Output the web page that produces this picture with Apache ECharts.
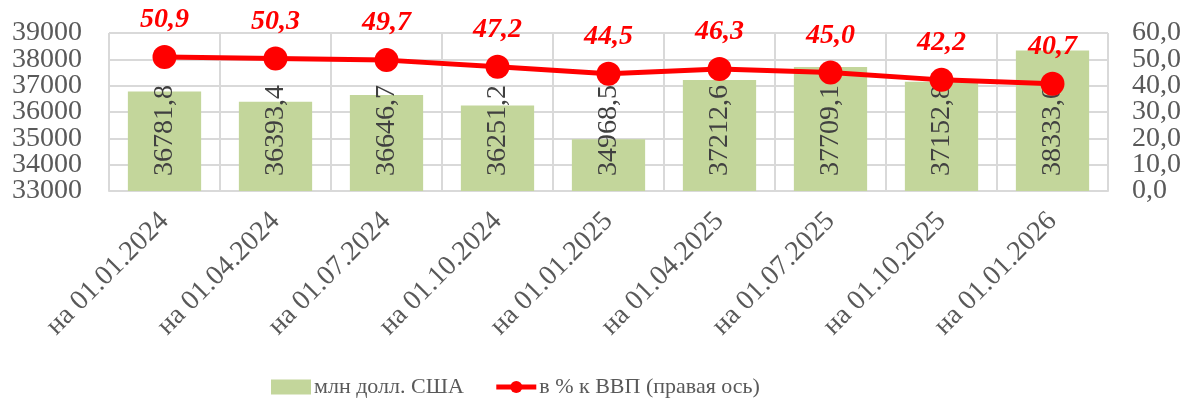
<!DOCTYPE html>
<html><head><meta charset="utf-8">
<script src="https://cdn.jsdelivr.net/npm/echarts@6/dist/echarts.min.js"></script>
<style>html,body{margin:0;padding:0;background:#fff}#c{width:1186px;height:407px}</style>
</head><body><div id="c"></div>
<script>
const categories = ['на 01.01.2024','на 01.04.2024','на 01.07.2024','на 01.10.2024','на 01.01.2025','на 01.04.2025','на 01.07.2025','на 01.10.2025','на 01.01.2026'];
const usdMln = [36781.8, 36393.4, 36646.7, 36251.2, 34968.5, 37212.6, 37709.1, 37152.8, 38333.0];
const pctGdp = [50.9, 50.3, 49.7, 47.2, 44.5, 46.3, 45.0, 42.2, 40.7];
const seriesNames = ['млн долл. США', 'в % к ВВП (правая ось)'];
const leftRange = [33000, 39000, 1000];
const rightRange = [0, 60, 10];

const font = "'Liberation Serif', serif";
const comma1 = v => v.toFixed(1).replace('.', ',');
const labelBase = {fontFamily: font, fontSize: 28, color: '#595959', hideOverlap: false};
const chart = echarts.init(document.getElementById('c'));
chart.setOption({
  animation: false,
  textStyle: {fontFamily: font},
  grid: {left: 109, right: 78, top: 33, bottom: 216},
  legend: {
    bottom: 4, left: 266, itemGap: 30,
    textStyle: {fontFamily: font, fontSize: 22, color: '#595959', padding: [0, 0, 0, -2]},
    data: [
      {name: seriesNames[0], icon: 'rect', itemStyle: {color: '#C3D69B'}},
      {name: seriesNames[1], lineStyle: {width: 5, color: '#FF0000'}, itemStyle: {color: '#FF0000'}}
    ],
    itemWidth: 40, itemHeight: 15
  },
  xAxis: {
    type: 'category', data: categories, boundaryGap: true,
    axisLine: {lineStyle: {color: '#D9D9D9', width: 2}},
    axisTick: {show: false},
    splitLine: {show: true, lineStyle: {color: '#D9D9D9', width: 2}},
    axisLabel: {rotate: 45, fontFamily: font, fontSize: 28, color: '#595959', margin: 26, interval: 0}
  },
  yAxis: [
    {type: 'value', position: 'left', min: leftRange[0], max: leftRange[1], interval: leftRange[2],
     axisLine: {show: false}, axisTick: {show: false},
     splitLine: {lineStyle: {color: '#D9D9D9', width: 2}},
     axisLabel: Object.assign({}, labelBase, {margin: 27, showMinLabel: false, showMaxLabel: false,
                 formatter: v => String(v)})},
    {type: 'value', position: 'right', min: rightRange[0], max: rightRange[1], interval: rightRange[2],
     axisLine: {show: false}, axisTick: {show: false}, splitLine: {show: false},
     axisLabel: Object.assign({}, labelBase, {margin: 24, showMinLabel: false, showMaxLabel: false,
                 formatter: v => comma1(v)})},
    {type: 'value', position: 'left', min: leftRange[0], max: leftRange[1], interval: leftRange[1] - leftRange[0],
     axisLine: {show: false}, axisTick: {show: false}, splitLine: {show: false},
     axisLabel: Object.assign({}, labelBase, {margin: 27, showMinLabel: true, showMaxLabel: true,
                 formatter: v => String(v)})},
    {type: 'value', position: 'right', min: rightRange[0], max: rightRange[1], interval: rightRange[1] - rightRange[0],
     axisLine: {show: false}, axisTick: {show: false}, splitLine: {show: false},
     axisLabel: Object.assign({}, labelBase, {margin: 24, showMinLabel: true, showMaxLabel: true,
                 formatter: v => comma1(v)})}
  ],
  series: [
    {name: seriesNames[0], type: 'bar', data: usdMln, yAxisIndex: 0,
     barCategoryGap: '34%',
     itemStyle: {color: '#C3D69B'},
     label: {show: true, position: 'insideBottom', rotate: 90, align: 'left', verticalAlign: 'middle',
             distance: 15, fontFamily: font, fontSize: 28, color: '#404040',
             formatter: p => comma1(p.value)},
     z: 2},
    {name: seriesNames[1], type: 'line', data: pctGdp, yAxisIndex: 1,
     symbol: 'circle', symbolSize: 24,
     lineStyle: {color: '#FF0000', width: 5}, itemStyle: {color: '#FF0000'},
     label: {show: true, position: 'top', distance: 11, fontFamily: font, fontSize: 28,
             fontWeight: 'bold', fontStyle: 'italic', color: '#FF0000',
             formatter: p => comma1(p.value)},
     z: 3}
  ]
});
</script></body></html>
